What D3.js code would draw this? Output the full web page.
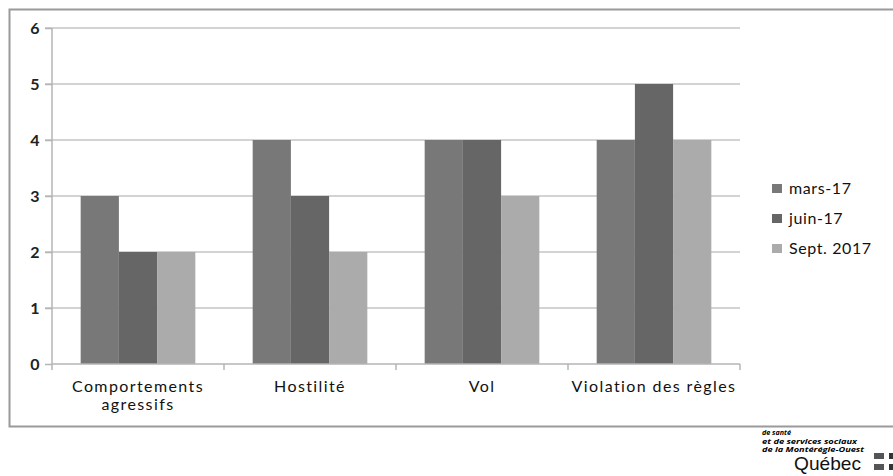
<!DOCTYPE html>
<html>
<head>
<meta charset="utf-8">
<script src="https://cdn.jsdelivr.net/npm/d3@7"></script>
<style>
  html, body { margin: 0; padding: 0; background: #fff; }
  svg { display: block; font-family: Lato, "Open Sans", sans-serif; }
</style>
</head>
<body>
<svg id="chart" width="893" height="476"></svg>
<script>
// Catégories et séries
const categories = [["Comportements", "agressifs"], ["Hostilité"], ["Vol"], ["Violation des règles"]];
const seriesNames = ["mars-17", "juin-17", "Sept. 2017"];
const marsValues = [3, 4, 4, 4];
const juinValues = [2, 3, 4, 5];
const septValues = [2, 2, 3, 4];
const yTicks = [0, 1, 2, 3, 4, 5, 6];
const colors = ["#787878", "#666666", "#ababab"];

const seriesValues = [marsValues, juinValues, septValues];
const svg = d3.select("#chart");

const plot = { left: 52, right: 740, top: 28, bottom: 364 };

// Cadre extérieur (ouvert à droite)
svg.append("path")
  .attr("d", "M893,9.5 H9.5 V426.5 H893")
  .attr("fill", "none").attr("stroke", "#9a9a9a").attr("stroke-width", 2);

const x0 = d3.scaleBand()
  .domain(d3.range(categories.length))
  .range([plot.left, plot.right])
  .paddingInner(0).paddingOuter(0);

const x1 = d3.scaleBand()
  .domain(d3.range(seriesNames.length))
  .range([0, x0.bandwidth()])
  .paddingOuter(0.75).paddingInner(0);

const y = d3.scaleLinear().domain([0, 6]).range([plot.bottom, plot.top]);

// Quadrillage horizontal
svg.append("g").selectAll("line")
  .data(yTicks.filter(d => d > 0))
  .join("line")
  .attr("x1", plot.left - 7).attr("x2", plot.right)
  .attr("y1", d => y(d)).attr("y2", d => y(d))
  .attr("stroke", "#c4c4c4").attr("stroke-width", 1.5);

// Barres
const groups = svg.append("g").selectAll("g")
  .data(categories.map((c, i) => i))
  .join("g")
  .attr("transform", i => `translate(${x0(i)},0)`);

groups.selectAll("rect")
  .data(i => seriesValues.map((vals, s) => ({ s, v: vals[i] })))
  .join("rect")
  .attr("x", d => x1(d.s))
  .attr("width", x1.bandwidth())
  .attr("y", d => y(d.v))
  .attr("height", d => y(0) - y(d.v))
  .attr("fill", d => colors[d.s]);

// Axe Y
const yAxis = svg.append("g").attr("transform", `translate(${plot.left},0)`)
  .call(d3.axisLeft(y).tickValues(yTicks).tickSize(7).tickPadding(19).tickFormat(d3.format("d")));
yAxis.select(".domain").attr("stroke", "#b4b4b4").attr("stroke-width", 1.5)
  .attr("d", `M0,${plot.top}V${plot.bottom}`);
yAxis.selectAll(".tick line").attr("stroke", "#b4b4b4").attr("stroke-width", 1.5);
yAxis.selectAll(".tick text").attr("font-size", 16).attr("font-weight", 700)
  .attr("fill", "#222").attr("font-family", "Lato, sans-serif")
  .attr("text-anchor", "middle").attr("dx", 9);

// Axe X
const xAxis = svg.append("g").attr("transform", `translate(0,${plot.bottom})`);
xAxis.append("line").attr("x1", plot.left).attr("x2", plot.right)
  .attr("stroke", "#b4b4b4").attr("stroke-width", 1.5);
xAxis.selectAll(".xt")
  .data(d3.range(categories.length + 1))
  .join("line")
  .attr("x1", i => plot.left + i * x0.bandwidth())
  .attr("x2", i => plot.left + i * x0.bandwidth())
  .attr("y1", 0).attr("y2", 6)
  .attr("stroke", "#b4b4b4").attr("stroke-width", 1.5);

const labels = xAxis.selectAll("text.cat")
  .data(categories)
  .join("text")
  .attr("class", "cat")
  .attr("x", (c, i) => x0(i) + x0.bandwidth() / 2)
  .attr("y", 28)
  .attr("text-anchor", "middle")
  .attr("font-size", 16)
  .attr("letter-spacing", 1.4)
  .attr("fill", "#111");
labels.selectAll("tspan")
  .data(c => c)
  .join("tspan")
  .attr("x", function () { return d3.select(this.parentNode).attr("x"); })
  .attr("dy", (t, j) => j === 0 ? 0 : 18)
  .text(t => t);

// Légende
const legend = svg.append("g").attr("transform", "translate(772,188)");
const items = legend.selectAll("g")
  .data(seriesNames)
  .join("g")
  .attr("transform", (d, i) => `translate(0,${i * 30})`);
items.append("rect")
  .attr("x", 0).attr("y", -4).attr("width", 10).attr("height", 9)
  .attr("fill", (d, i) => colors[i]);
items.append("text")
  .attr("x", 17).attr("y", 5.5)
  .attr("font-size", 16).attr("letter-spacing", 0.6).attr("fill", "#111")
  .text(d => d);

// Signature
const sig = svg.append("g").attr("font-family", "'Open Sans', sans-serif");
const sigLines = ["de santé", "et de services sociaux", "de la Montérégie-Ouest"];
const sigWidths = [29, 95, 102];
sig.selectAll("text.l")
  .data(sigLines)
  .join("text")
  .attr("class", "l")
  .attr("x", 762).attr("y", (d, i) => 435 + i * 8.6)
  .attr("font-size", 7.8).attr("font-style", "italic").attr("font-weight", 700)
  .attr("textLength", (d, i) => sigWidths[i]).attr("lengthAdjust", "spacingAndGlyphs")
  .text(d => d);
sig.append("text").attr("x", 794).attr("y", 470).attr("font-size", 19)
  .attr("textLength", 67).attr("lengthAdjust", "spacingAndGlyphs")
  .attr("font-family", "'Liberation Sans', sans-serif").attr("fill", "#111").text("Québec");
sig.selectAll("rect.flag")
  .data([453, 464])
  .join("rect")
  .attr("x", 874).attr("y", d => d).attr("width", 10).attr("height", 6)
  .attr("fill", "#555");
sig.selectAll("rect.flag2")
  .data([453, 464])
  .join("rect")
  .attr("x", 889).attr("y", d => d).attr("width", 4).attr("height", 6)
  .attr("fill", "#333");
</script>
</body>
</html>
